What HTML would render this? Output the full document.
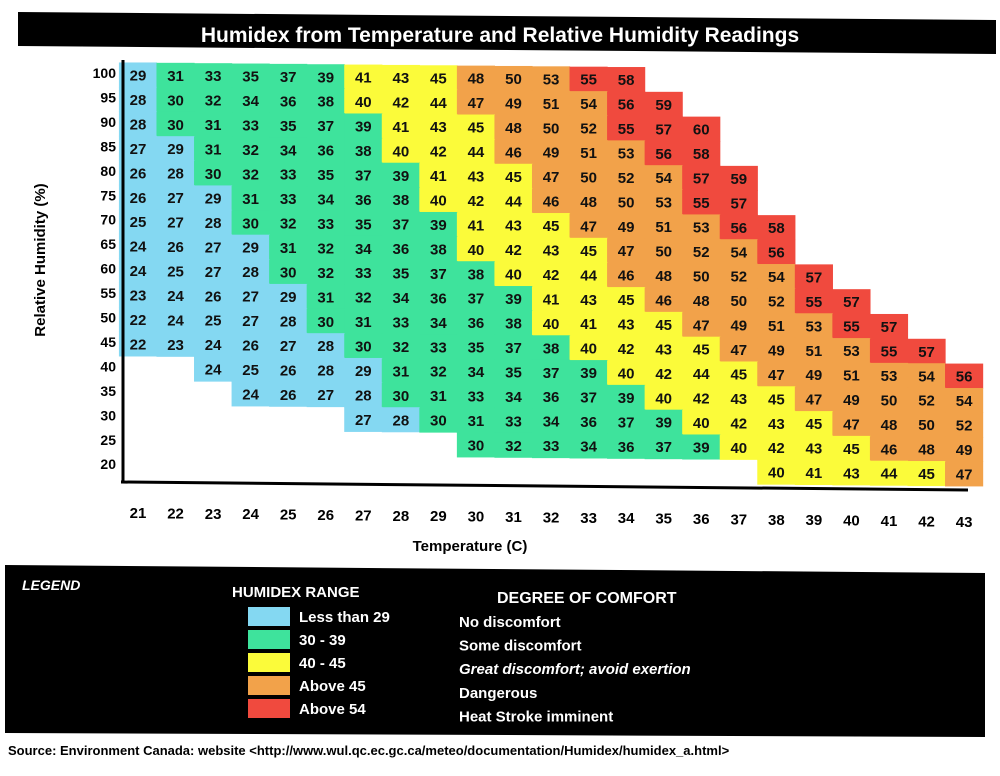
<!DOCTYPE html>
<html><head><meta charset="utf-8"><style>
body{margin:0;background:#fff;width:1000px;height:776px;overflow:hidden;font-family:"Liberation Sans",sans-serif}
svg{display:block}
</style></head><body>
<svg id="chart" width="1000" height="776" font-family="Liberation Sans, sans-serif">
<polygon points="18,12 996,20 996,54 18,46" fill="#000"/>
<text x="500" y="42" text-anchor="middle" fill="#fff" font-size="21" font-weight="bold">Humidex from Temperature and Relative Humidity Readings</text>
<g id="cells"></g>
<line x1="123" y1="60" x2="123" y2="483" stroke="#000" stroke-width="3"/>
<line x1="121" y1="482" x2="968" y2="490" stroke="#000" stroke-width="3"/>
<g id="axes"></g>
<text x="470" y="551" text-anchor="middle" font-size="15" font-weight="bold">Temperature (C)</text>
<text transform="translate(45,260) rotate(-90)" text-anchor="middle" font-size="15" font-weight="bold">Relative Humidity (%)</text>
<polygon points="5,565 985,573 985,737 5,733" fill="#000"/>
<text x="22" y="590" fill="#fff" font-size="14" font-weight="bold" font-style="italic">LEGEND</text>
<text x="232" y="597" fill="#fff" font-size="15" font-weight="bold">HUMIDEX RANGE</text>
<text x="497" y="603" fill="#fff" font-size="16" font-weight="bold">DEGREE OF COMFORT</text>
<g id="legend"></g>
<text x="8" y="755" font-size="13" font-weight="bold">Source: Environment Canada: website  &lt;http://www.wul.qc.ec.gc.ca/meteo/documentation/Humidex/humidex_a.html&gt;</text>
</svg>
<script>
const temps=[21,22,23,24,25,26,27,28,29,30,31,32,33,34,35,36,37,38,39,40,41,42,43];
const humidities=[100,95,90,85,80,75,70,65,60,55,50,45,40,35,30,25,20];
const rowStartTemp=[21,21,21,21,21,21,21,21,21,21,21,21,23,24,27,30,38];
const rowValues=[
[29,31,33,35,37,39,41,43,45,48,50,53,55,58],
[28,30,32,34,36,38,40,42,44,47,49,51,54,56,59],
[28,30,31,33,35,37,39,41,43,45,48,50,52,55,57,60],
[27,29,31,32,34,36,38,40,42,44,46,49,51,53,56,58],
[26,28,30,32,33,35,37,39,41,43,45,47,50,52,54,57,59],
[26,27,29,31,33,34,36,38,40,42,44,46,48,50,53,55,57],
[25,27,28,30,32,33,35,37,39,41,43,45,47,49,51,53,56,58],
[24,26,27,29,31,32,34,36,38,40,42,43,45,47,50,52,54,56],
[24,25,27,28,30,32,33,35,37,38,40,42,44,46,48,50,52,54,57],
[23,24,26,27,29,31,32,34,36,37,39,41,43,45,46,48,50,52,55,57],
[22,24,25,27,28,30,31,33,34,36,38,40,41,43,45,47,49,51,53,55,57],
[22,23,24,26,27,28,30,32,33,35,37,38,40,42,43,45,47,49,51,53,55,57],
[24,25,26,28,29,31,32,34,35,37,39,40,42,44,45,47,49,51,53,54,56],
[24,26,27,28,30,31,33,34,36,37,39,40,42,43,45,47,49,50,52,54],
[27,28,30,31,33,34,36,37,39,40,42,43,45,47,48,50,52],
[30,32,33,34,36,37,39,40,42,43,45,46,48,49],
[40,41,43,44,45,47]];
const legendRanges=["Less than 29","30 - 39","40 - 45","Above 45","Above 54"];
const legendComfort=["No discomfort","Some discomfort","Great discomfort; avoid exertion","Dangerous","Heat Stroke imminent"];
const legendColors=["#84d8f2","#3ee39c","#fbfb3a","#f2a24a","#f04a3e"];
const NS="http://www.w3.org/2000/svg";
const CW=37.55,CH=24.45;
function xCenter(t){return 138+(t-21)*CW;}
function yCenter(h,t){return 75+(100-h)/5*CH+(t-21)*0.35;}
function colorFor(v){return v<=29?legendColors[0]:v<=39?legendColors[1]:v<=45?legendColors[2]:v<=54?legendColors[3]:legendColors[4];}
function mk(tag,attrs,parent){const e=document.createElementNS(NS,tag);for(const k in attrs)e.setAttribute(k,attrs[k]);parent.appendChild(e);return e;}
const cells=document.getElementById('cells');
humidities.forEach((h,r)=>{rowValues[r].forEach((v,i)=>{const t=rowStartTemp[r]+i;const cx=xCenter(t),cy=yCenter(h,t);
const rc=mk('rect',{x:cx-CW/2-0.3,y:cy-CH/2-0.3,width:CW+0.6,height:CH+0.6,fill:colorFor(v)},cells);


const tx=mk('text',{x:cx,y:cy+5.5,'text-anchor':'middle','font-size':'15','font-weight':'bold',fill:'#111'},cells);tx.textContent=v;

});});
const axes=document.getElementById('axes');
humidities.forEach(h=>{const y=yCenter(h,21)-2;const tx=mk('text',{x:116,y:y+5,'text-anchor':'end','font-size':'14','font-weight':'bold'},axes);tx.textContent=h;

});
temps.forEach(t=>{const x=xCenter(t);const y=518+(t-21)*0.4;const tx=mk('text',{x:x,y:y,'text-anchor':'middle','font-size':'15','font-weight':'bold'},axes);tx.textContent=t;

});
const lg=document.getElementById('legend');
legendRanges.forEach((r,i)=>{const y=607+i*23;
const sw=mk('rect',{x:248,y:y,width:42,height:19,fill:legendColors[i]},lg);


const a=mk('text',{x:299,y:y+15,fill:'#fff','font-size':'15','font-weight':'bold'},lg);a.textContent=r;


const b=mk('text',{x:459,y:y+20+i*0.6,fill:'#fff','font-size':'15','font-weight':'bold','font-style':i==2?'italic':'normal'},lg);b.textContent=legendComfort[i];

});
</script>
</body></html>
